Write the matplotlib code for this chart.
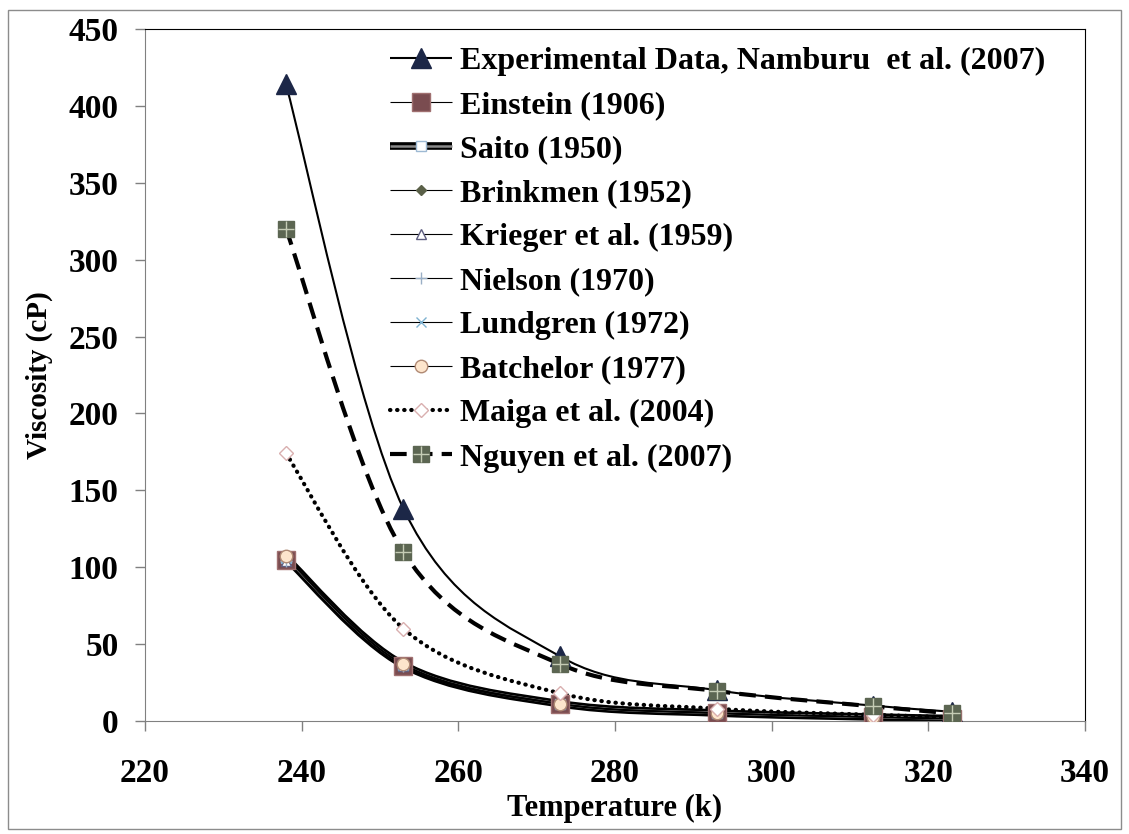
import numpy as np
import matplotlib
matplotlib.use("Agg")
import matplotlib.pyplot as plt
from matplotlib.path import Path
from matplotlib.patches import PathPatch, Rectangle
from matplotlib.lines import Line2D
from matplotlib.legend_handler import HandlerTuple
import matplotlib.patheffects as pe

# temperature (K) and viscosity (cP)
temp = [238, 253, 273, 293, 313, 323]
experimental = [414, 138, 42, 20, 10, 6]
einstein = [105, 36, 11, 5, 2.5, 1.5]
saito = [106, 36.5, 11.2, 5.2, 2.6, 1.6]
brinkmen = [107, 36.8, 11.3, 5.2, 2.6, 1.6]
krieger = [104, 35.5, 10.9, 5, 2.5, 1.5]
nielson = [104, 35.7, 11, 5.1, 2.5, 1.5]
lundgren = [106, 36.4, 11.2, 5.2, 2.6, 1.6]
batchelor = [107, 36.9, 11.3, 5.3, 2.6, 1.6]
maiga = [174, 60, 18, 8, 4, 2.5]
nguyen = [320, 110, 37, 19.5, 9.5, 5]

labels = ['Experimental Data, Namburu  et al. (2007)', 'Einstein (1906)', 'Saito (1950)',
          'Brinkmen (1952)', 'Krieger et al. (1959)', 'Nielson (1970)', 'Lundgren (1972)',
          'Batchelor (1977)', 'Maiga et al. (2004)', 'Nguyen et al. (2007)']

plt.rcParams['font.family'] = ['Liberation Serif', 'DejaVu Serif']
plt.rcParams['font.weight'] = 'bold'


def smooth_path(x, y):
    # excel-like smoothed line: catmull-rom segments as cubic beziers
    p = np.column_stack([x, y]).astype(float)
    n = len(p)
    verts = [p[0]]
    codes = [Path.MOVETO]
    for i in range(n - 1):
        p0 = p[i - 1] if i > 0 else p[i]
        p3 = p[i + 2] if i + 2 < n else p[i + 1]
        c1 = p[i] + (p[i + 1] - p0) / 6.0
        c2 = p[i + 1] - (p3 - p[i]) / 6.0
        verts += [c1, c2, p[i + 1]]
        codes += [Path.CURVE4] * 3
    return Path(verts, codes)


fig = plt.figure(figsize=(11.29, 8.34), dpi=100)
ax = fig.add_axes([0.1284, 0.1355, 0.961 - 0.1284, 0.9652 - 0.1355])

saito_fx = [pe.withStroke(linewidth=5.5, foreground='black')]

# (data, line kwargs, marker kwargs)
series = [
    (experimental, dict(color='black', lw=1.5, ls='-'),
     dict(marker='^', ms=14, mfc='#1c2747', mec='#1c2747')),
    (einstein, dict(color='black', lw=0.8, ls='-'),
     dict(marker='s', ms=13, mfc='#7a4c50', mec='#a07070')),
    (saito, dict(color='#8a8a8a', lw=1.8, ls='-'),
     dict(marker='s', ms=7.5, mfc='white', mec='#9db9d3')),
    (brinkmen, dict(color='black', lw=0.8, ls='-'),
     dict(marker='D', ms=5, mfc='#5a6048', mec='#5a6048')),
    (krieger, dict(color='black', lw=0.8, ls='-'),
     dict(marker='^', ms=7, mfc='white', mec='#5e5e80')),
    (nielson, dict(color='black', lw=0.8, ls='-'),
     dict(marker='+', ms=8, mfc='#9aafc6', mec='#9aafc6', mew=1)),
    (lundgren, dict(color='black', lw=0.8, ls='-'),
     dict(marker='x', ms=7, mfc='#7fb2d0', mec='#7fb2d0', mew=1)),
    (batchelor, dict(color='black', lw=0.8, ls='-'),
     dict(marker='o', ms=9, mfc='#fde5cc', mec='#b08a74')),
    (maiga, dict(color='black', lw=3, ls=(0, (0.1, 1.6)), capstyle='round'),
     dict(marker='D', ms=7.5, mfc='white', mec='#d9afaf')),
    (nguyen, dict(color='black', lw=3, ls=(0, (4, 2.2))),
     dict(marker='s', ms=11.5, mfc='#5c6652', mec='#5c6652')),
]

handles = []
for k, (vals, lk, mk) in enumerate(series):
    cap = lk.get('capstyle', 'butt')
    patch = PathPatch(smooth_path(temp, vals), facecolor='none', edgecolor=lk['color'],
                      linewidth=lk['lw'], linestyle=lk['ls'], capstyle=cap)
    lh = Line2D([], [], color=lk['color'], lw=lk['lw'], ls=lk['ls'],
                dash_capstyle=cap, solid_capstyle=cap)
    if k == 2:
        patch.set_path_effects(saito_fx)
        lh.set_path_effects(saito_fx)
    ax.add_patch(patch)
    ax.plot(temp, vals, ls='none', **mk, zorder=3)
    mh = Line2D([], [], ls='none', **mk)
    handles.append((lh, mh))

# light cross on the Nguyen squares
ax.plot(temp, nguyen, ls='none', marker='+', ms=11, mec='#c5ccb5', mew=1, zorder=4)
cross = Line2D([], [], ls='none', marker='+', ms=11, mec='#c5ccb5', mew=1)
handles[-1] = handles[-1] + (cross,)

ax.set_xlim(220, 340)
ax.set_ylim(0, 450)
ax.set_xticks(np.arange(220, 341, 20))
ax.set_yticks(np.arange(0, 451, 50))
ax.tick_params(labelsize=24, length=7, color='#808080', width=1)
ax.tick_params(axis='y', pad=12)
ax.tick_params(axis='x', pad=20)
for lab in ax.get_xticklabels() + ax.get_yticklabels():
    lab.set_fontweight('bold')
for s in ['left', 'bottom']:
    ax.spines[s].set_color('#808080')
for s in ['top', 'right']:
    ax.spines[s].set_color('black')

ax.set_xlabel('Temperature (k)', fontsize=22, fontweight='bold', labelpad=3)
ax.set_ylabel('Viscosity (cP)', fontsize=21, fontweight='bold', labelpad=11)

ax.legend(handles, labels, loc='upper left', bbox_to_anchor=(0.247, 0.993), frameon=False,
          fontsize=23, handlelength=1.95, handletextpad=0.25, labelspacing=0.46,
          borderaxespad=0, handler_map={tuple: HandlerTuple(ndivide=1)})

fig.patches.append(Rectangle((0.007, 0.006), 0.986, 0.982, transform=fig.transFigure,
                             fill=False, edgecolor='#8c8c8c', lw=1))

fig.savefig('out.png', dpi=100)
